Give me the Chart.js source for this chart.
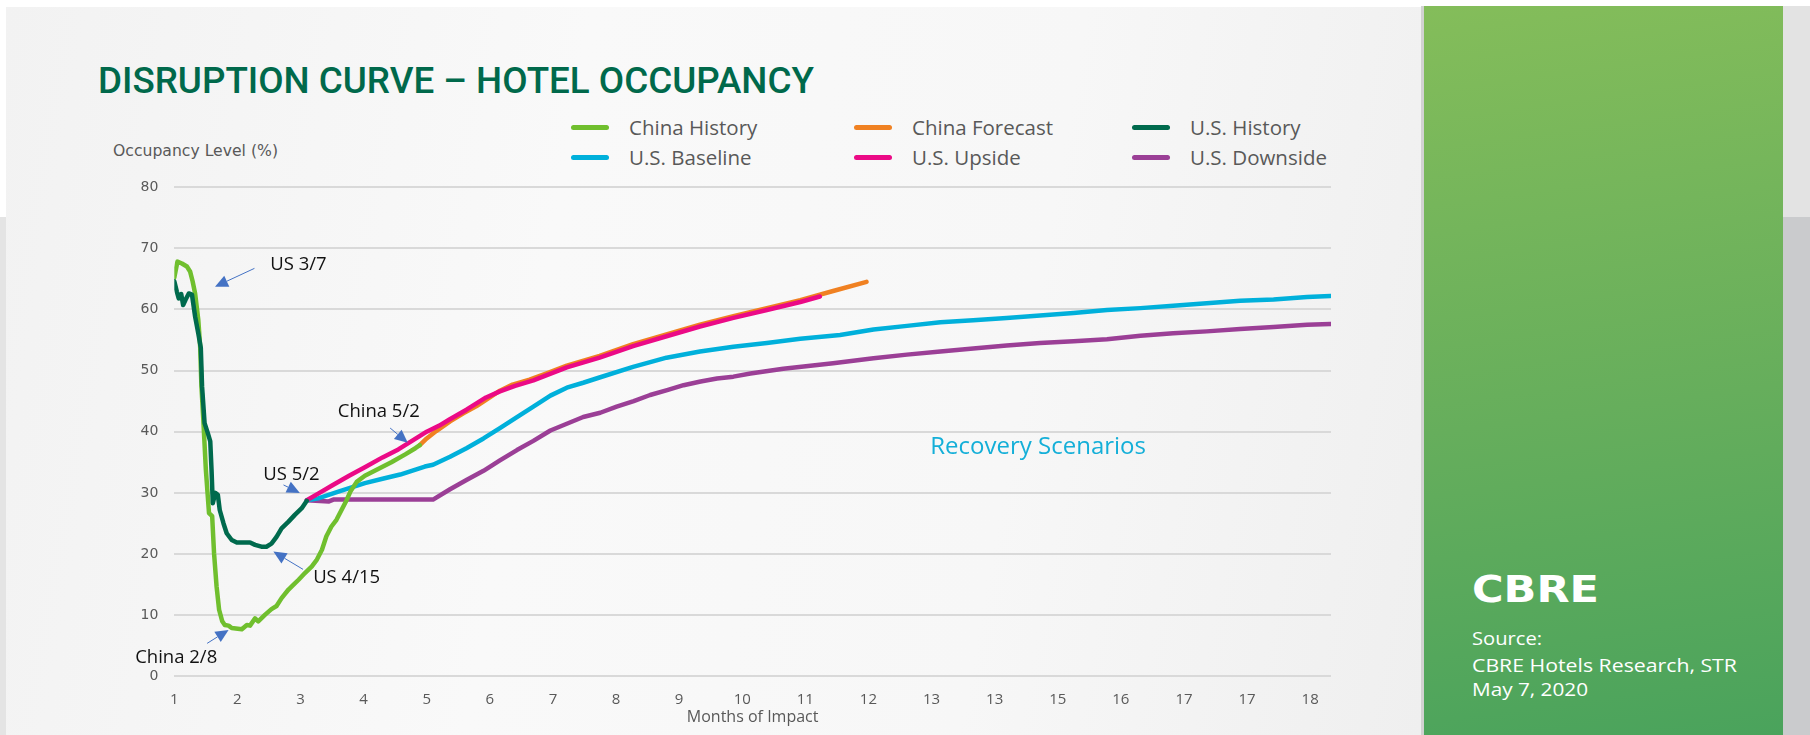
<!DOCTYPE html>
<html>
<head>
<meta charset="utf-8">
<title>Disruption Curve – Hotel Occupancy</title>
<script src="https://cdn.jsdelivr.net/npm/chart.js@4.4.1/dist/chart.umd.min.js"></script>
<style>
    html, body { margin: 0; padding: 0; }
    body {
        width: 1810px; height: 735px; position: relative; overflow: hidden;
        background: #ffffff; font-family: 'Open Sans', sans-serif;
    }
    .block { position: absolute; }
    #slide {
        left: 6px; top: 7px; width: 1416px; height: 728px;
        background: linear-gradient(100deg, #f2f2f2 0%, #f9f9f9 38%, #f7f7f7 70%, #efefef 100%);
    }
    #panel {
        left: 1424px; top: 6px; width: 359px; height: 729px;
        background: linear-gradient(172deg, #84bd5a 0%, #66ae5c 55%, #4aa35c 100%);
    }
    #edge { left: 1421px; top: 6px; width: 3px; height: 729px; background: #d2d2d2; }
    #right-top { left: 1783px; top: 6px; width: 27px; height: 211px; background: #e3e3e3; }
    #right-low { left: 1783px; top: 217px; width: 27px; height: 518px; background: #cacbcd; }
    #left-low { left: 0; top: 217px; width: 6px; height: 518px; background: #e4e4e4; }
    #chart { position: absolute; left: 0; top: 0; }
    .fit { position: absolute; white-space: nowrap; transform-origin: 0 50%; }
    #title { left: 98px; top: 58px; font-family: Roboto, sans-serif; font-weight: 500; font-size: 37px; color: #00694b; line-height: 46px; }
    #y-title { left: 113px; top: 140px; font-family: 'DejaVu Sans', sans-serif; font-size: 15.5px; color: #595959; line-height: 22px; }
    #legend .item { position: absolute; height: 30px; }
    #legend .swatch { position: absolute; top: 13px; width: 38px; height: 5px; border-radius: 3px; }
    #legend .label { position: absolute; left: 58px; top: 0; font-size: 20.5px; line-height: 30px; color: #595959; white-space: nowrap; }
    #logo { left: 1472px; top: 568px; font-family: 'DejaVu Sans', sans-serif; font-weight: bold; font-size: 37px; line-height: 44px; color: #ffffff; }
    .src { left: 1472px; font-family: 'Open Sans', sans-serif; font-size: 18px; line-height: 24px; color: #ffffff; }
</style>
</head>
<body>
<div class="block" id="slide"></div>
<div class="block" id="left-low"></div>
<div class="block" id="right-top"></div>
<div class="block" id="right-low"></div>
<div class="block" id="panel"></div>
<div class="block" id="edge"></div>

<div class="fit" id="title" data-w="716">DISRUPTION CURVE – HOTEL OCCUPANCY</div>
<div class="fit" id="y-title" data-w="165">Occupancy Level (%)</div>
<div id="legend"></div>

<div class="fit" id="logo" data-w="127">CBRE</div>
<div class="fit src" style="top:626px" data-w="70">Source:</div>
<div class="fit src" style="top:653px" data-w="265">CBRE Hotels Research, STR</div>
<div class="fit src" style="top:677px" data-w="116">May 7, 2020</div>

<canvas id="chart" width="1810" height="735"></canvas>

<script>
// --- Axis labels (Excel prints these under each tick, duplicates included) ---
const monthLabels = ['1', '2', '3', '4', '5', '6', '7', '8', '9', '10', '11', '12', '13', '13', '15', '16', '17', '17', '18'];

// --- Series: [tick position, occupancy %] ---
const chinaHistory = [
    [1.00, 65.2], [1.05, 67.8], [1.12, 67.5], [1.20, 67.0], [1.25, 66.2], [1.29, 64.6], [1.33, 62.6],
    [1.38, 58.3], [1.41, 53.9], [1.43, 47.4], [1.46, 41.9], [1.50, 33.8], [1.55, 26.7], [1.60, 26.2],
    [1.63, 20.1], [1.67, 14.7], [1.71, 10.9], [1.76, 9.0], [1.80, 8.4], [1.86, 8.3], [1.91, 7.9],
    [2.07, 7.7], [2.15, 8.4], [2.20, 8.3], [2.28, 9.5], [2.33, 9.0], [2.44, 10.1], [2.54, 11.0],
    [2.62, 11.5], [2.70, 12.8], [2.81, 14.2], [2.89, 15.0], [2.97, 15.8], [3.07, 16.9], [3.18, 18.0],
    [3.26, 19.1], [3.34, 20.7], [3.41, 22.9], [3.49, 24.5], [3.57, 25.6], [3.65, 27.2], [3.73, 28.8],
    [3.79, 30.2], [3.89, 31.8], [4.02, 32.8], [4.23, 33.9], [4.44, 35.0], [4.66, 36.3], [4.82, 37.3],
    [4.89, 37.8]
];
const chinaForecast = [
    [4.89, 37.8], [5.00, 38.9], [5.15, 40.1], [5.37, 41.7], [5.58, 43.0], [5.79, 44.2], [6.00, 45.6],
    [6.16, 46.7], [6.36, 47.7], [6.63, 48.5], [6.89, 49.5], [7.22, 50.8], [7.74, 52.4], [8.27, 54.3],
    [8.80, 55.9], [9.33, 57.5], [9.86, 58.9], [10.39, 60.2], [10.92, 61.5], [11.44, 63.0], [11.97, 64.5]
];
const usHistory = [
    [1.00, 64.6], [1.04, 62.9], [1.07, 61.8], [1.11, 62.5], [1.14, 60.7], [1.18, 61.6], [1.23, 62.6],
    [1.28, 62.4], [1.33, 58.8], [1.38, 56.1], [1.42, 53.7], [1.44, 47.4], [1.48, 41.4], [1.53, 39.8],
    [1.57, 38.4], [1.59, 33.8], [1.61, 28.3], [1.65, 30.0], [1.69, 29.7], [1.72, 27.2], [1.78, 25.0],
    [1.83, 23.4], [1.91, 22.3], [1.99, 21.9], [2.20, 21.9], [2.28, 21.5], [2.38, 21.2], [2.46, 21.2],
    [2.54, 21.7], [2.62, 22.8], [2.70, 24.2], [2.81, 25.3], [2.91, 26.4], [3.02, 27.5], [3.10, 28.7]
];
const usBaseline = [
    [3.10, 28.8], [3.28, 29.1], [3.60, 30.2], [4.02, 31.6], [4.30, 32.3], [4.58, 33.0], [4.97, 34.3],
    [5.10, 34.6], [5.37, 35.9], [5.63, 37.3], [5.90, 38.9], [6.16, 40.6], [6.43, 42.4], [6.69, 44.1],
    [6.96, 45.9], [7.22, 47.2], [7.48, 48.0], [7.75, 48.9], [8.27, 50.6], [8.80, 52.1], [9.33, 53.1],
    [9.86, 53.9], [10.39, 54.5], [10.92, 55.2], [11.55, 55.8], [12.08, 56.7], [12.61, 57.3], [13.14, 57.9],
    [13.66, 58.2], [14.19, 58.6], [14.72, 59.0], [15.25, 59.4], [15.78, 59.9], [16.31, 60.2], [16.83, 60.6],
    [17.36, 61.0], [17.89, 61.4], [18.42, 61.6], [18.95, 62.0], [19.32, 62.2]
];
const usUpside = [
    [3.10, 28.8], [3.30, 30.0], [3.50, 31.2], [3.77, 32.8], [4.02, 34.2], [4.30, 35.8], [4.55, 37.1],
    [4.83, 38.9], [5.00, 40.0], [5.20, 41.0], [5.36, 42.0], [5.63, 43.6], [5.94, 45.6], [6.16, 46.6],
    [6.40, 47.5], [6.69, 48.4], [7.22, 50.5], [7.74, 52.1], [8.27, 54.0], [8.80, 55.6], [9.33, 57.2],
    [9.86, 58.6], [10.39, 59.9], [10.92, 61.2], [11.23, 62.1]
];
const usDownside = [
    [3.10, 28.8], [3.45, 28.6], [3.52, 28.9], [5.10, 28.9], [5.37, 30.6], [5.63, 32.1], [5.90, 33.6],
    [6.16, 35.3], [6.43, 37.0], [6.69, 38.5], [6.96, 40.2], [7.22, 41.3], [7.48, 42.4], [7.75, 43.1],
    [8.01, 44.1], [8.28, 45.0], [8.54, 46.0], [8.81, 46.8], [9.07, 47.6], [9.34, 48.2], [9.60, 48.7],
    [9.86, 49.0], [10.13, 49.5], [10.65, 50.3], [11.44, 51.2], [12.08, 52.0], [12.61, 52.6], [13.14, 53.1],
    [13.66, 53.6], [14.19, 54.1], [14.72, 54.5], [15.25, 54.8], [15.78, 55.1], [16.31, 55.7], [16.83, 56.1],
    [17.36, 56.4], [17.89, 56.8], [18.42, 57.1], [18.95, 57.5], [19.32, 57.6]
];

// --- Callouts: text anchor and arrow (tail -> head) in axis units ---
const callouts = [
    { text: 'US 3/7', at: [2.52, 67.3], from: [2.27, 66.7], to: [1.645, 63.7] },
    { text: 'US 5/2', at: [2.41, 32.9], from: [2.73, 31.3], to: [2.99, 30.0] },
    { text: 'China 5/2', at: [3.59, 43.2], from: [4.42, 40.6], to: [4.70, 38.2] },
    { text: 'US 4/15', at: [3.20, 16.1], from: [3.04, 17.5], to: [2.57, 20.4] },
    { text: 'China 2/8', at: [0.38, 3.0], from: [1.52, 5.4], to: [1.86, 7.6] },
    { text: 'Recovery Scenarios', at: [12.98, 37.5], color: '#14afd8', size: 24 }
];

const toPoints = rows => rows.map(([x, y]) => ({ x, y }));

const series = [
    { label: 'China History', data: chinaHistory, color: '#70bf2e', order: 3, legend: [0, 0] },
    { label: 'China Forecast', data: chinaForecast, color: '#f08122', order: 4, legend: [1, 0] },
    { label: 'U.S. History', data: usHistory, color: '#006a4d', order: 1, legend: [2, 0] },
    { label: 'U.S. Baseline', data: usBaseline, color: '#00b0db', order: 5, legend: [0, 1] },
    { label: 'U.S. Upside', data: usUpside, color: '#eb0a86', order: 2, legend: [1, 1] },
    { label: 'U.S. Downside', data: usDownside, color: '#9b3f96', order: 6, legend: [2, 1] }
];

// --- Callout plugin: draws the annotation labels and the little blue arrows ---
const calloutPlugin = {
    id: 'callouts',
    afterDatasetsDraw(chart) {
        const { ctx, scales: { x, y } } = chart;
        ctx.save();
        callouts.forEach(c => {
            ctx.font = `${c.size || 18.5}px "Open Sans", sans-serif`;
            ctx.fillStyle = c.color || '#111111';
            ctx.textAlign = 'left';
            ctx.textBaseline = 'middle';
            ctx.fillText(c.text, x.getPixelForValue(c.at[0]), y.getPixelForValue(c.at[1]));

            if (!c.from) return;
            const x1 = x.getPixelForValue(c.from[0]), y1 = y.getPixelForValue(c.from[1]);
            const x2 = x.getPixelForValue(c.to[0]), y2 = y.getPixelForValue(c.to[1]);
            const ang = Math.atan2(y2 - y1, x2 - x1);
            const head = 13, half = 6;
            ctx.strokeStyle = '#4472c4';
            ctx.fillStyle = '#4472c4';
            ctx.lineWidth = 1;
            ctx.beginPath();
            ctx.moveTo(x1, y1);
            ctx.lineTo(x2 - Math.cos(ang) * head, y2 - Math.sin(ang) * head);
            ctx.stroke();
            ctx.beginPath();
            ctx.moveTo(x2, y2);
            ctx.lineTo(x2 - Math.cos(ang) * head - Math.sin(ang) * half, y2 - Math.sin(ang) * head + Math.cos(ang) * half);
            ctx.lineTo(x2 - Math.cos(ang) * head + Math.sin(ang) * half, y2 - Math.sin(ang) * head - Math.cos(ang) * half);
            ctx.closePath();
            ctx.fill();
        });
        ctx.restore();
    }
};

const chart = new Chart(document.getElementById('chart').getContext('2d'), {
    type: 'line',
    data: {
        datasets: series.map(s => ({
            label: s.label,
            data: toPoints(s.data),
            borderColor: s.color,
            backgroundColor: s.color,
            borderWidth: 4.5,
            pointRadius: 0,
            tension: 0,
            fill: false,
            order: s.order,
            borderCapStyle: 'round',
            borderJoinStyle: 'round'
        }))
    },
    options: {
        responsive: false,
        animation: false,
        layout: { padding: { left: 0, right: 479, top: 187, bottom: 0 } },
        plugins: {
            legend: { display: false },
            tooltip: { enabled: false }
        },
        scales: {
            x: {
                type: 'linear',
                min: 1,
                max: 19.33,
                afterBuildTicks: axis => { axis.ticks = monthLabels.map((_, i) => ({ value: i + 1 })); },
                afterFit: axis => { axis.height = 58.6; },
                ticks: {
                    callback: v => monthLabels[v - 1],
                    autoSkip: false,
                    maxRotation: 0,
                    padding: 14,
                    color: '#595959',
                    font: { family: 'Open Sans', size: 15 }
                },
                grid: { display: false, drawTicks: false },
                border: { display: false },
                title: {
                    display: true,
                    text: 'Months of Impact',
                    color: '#595959',
                    font: { family: 'Open Sans', size: 16 },
                    padding: { top: 0, bottom: 8 }
                }
            },
            y: {
                min: 0,
                max: 80,
                afterFit: axis => { axis.width = 174.3; },
                ticks: {
                    stepSize: 10,
                    padding: 16,
                    color: '#595959',
                    font: { family: 'DejaVu Sans', size: 14 }
                },
                grid: { color: '#d9d9d9', lineWidth: 2, drawTicks: false },
                border: { display: false }
            }
        }
    },
    plugins: [calloutPlugin]
});

// --- Legend: three columns, two rows, built from the chart's own datasets ---
const legendCols = [571, 854, 1132];
const legendRows = [112, 142];
const legendBox = document.getElementById('legend');
chart.data.datasets.forEach((ds, i) => {
    const [col, row] = series[i].legend;
    const item = document.createElement('div');
    item.className = 'item';
    item.style.left = legendCols[col] + 'px';
    item.style.top = legendRows[row] + 'px';
    item.innerHTML = `<div class="swatch" style="background:${ds.borderColor}"></div><div class="label">${ds.label}</div>`;
    legendBox.appendChild(item);
});

// --- Squeeze wide fallback fonts to the widths seen in the original slide ---
document.querySelectorAll('.fit[data-w]').forEach(el => {
    const w = el.getBoundingClientRect().width;
    const target = parseFloat(el.dataset.w);
    if (w > 0) el.style.transform = `scaleX(${(target / w).toFixed(3)})`;
});
</script>
</body>
</html>
